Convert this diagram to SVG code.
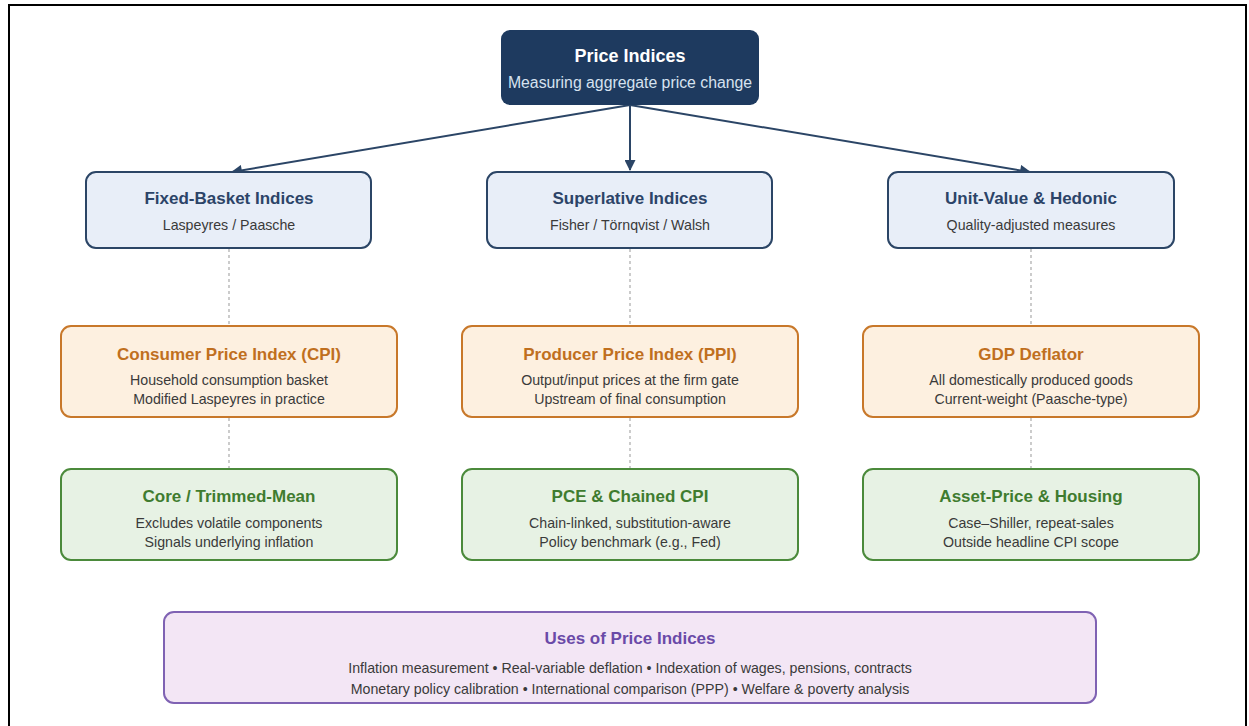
<svg xmlns="http://www.w3.org/2000/svg" width="1249" height="726" viewBox="0 0 1249 726">
<defs>
<style>
text{font-family:"Liberation Sans",Arial,sans-serif;text-anchor:middle}
.t{font-size:17px;font-weight:bold}
.s{font-size:14.2px;fill:#3a3a3a}
.b rect{fill:#e8eef8;stroke:#2b4566;stroke-width:2}
.b .t{fill:#2c4468}
.o rect{fill:#fdf0e0;stroke:#c8782a;stroke-width:2}
.o .t{fill:#c06f1e}
.g rect{fill:#e7f2e4;stroke:#4b8a3b;stroke-width:2}
.g .t{fill:#3f7c2f}
.p rect{fill:#f3e6f5;stroke:#7f62b3;stroke-width:2}
.p .t{fill:#6a4aa8}
.arr{stroke:#2b4566;stroke-width:2;fill:none}
.dot{stroke:#aaaaaa;stroke-width:1.2;stroke-dasharray:3 3;fill:none}
</style>
<marker id="ah" viewBox="0 0 10 10" refX="9" refY="5" markerWidth="12" markerHeight="11" orient="auto" markerUnits="userSpaceOnUse">
<path d="M0,0 L10,5 L0,10 z" fill="#2b4566"/>
</marker>
</defs>
<rect x="0" y="0" width="1249" height="726" fill="#ffffff"/>
<rect x="9" y="5" width="1237" height="740" fill="none" stroke="#000" stroke-width="2"/>
<g id="connectors">
<line class="arr" x1="630" y1="105" x2="232" y2="172" marker-end="url(#ah)"/>
<line class="arr" x1="630" y1="105" x2="630" y2="170" marker-end="url(#ah)"/>
<line class="arr" x1="630" y1="105" x2="1030" y2="172" marker-end="url(#ah)"/>
<line class="dot" x1="229" y1="249" x2="229" y2="325"/>
<line class="dot" x1="630" y1="249" x2="630" y2="325"/>
<line class="dot" x1="1031" y1="249" x2="1031" y2="325"/>
<line class="dot" x1="229" y1="418" x2="229" y2="468"/>
<line class="dot" x1="630" y1="418" x2="630" y2="468"/>
<line class="dot" x1="1031" y1="418" x2="1031" y2="468"/>
</g>
<g id="root">
<rect x="501" y="30" width="258" height="75" rx="9" fill="#1e3a5f"/>
<text x="630" y="62" style="font-size:18px;font-weight:bold" fill="#ffffff">Price Indices</text>
<text x="630" y="88" style="font-size:15.8px" fill="#d6e2f0">Measuring aggregate price change</text>
</g>
<g id="fixed" class="b">
<rect x="86" y="172" width="285" height="76" rx="10"/>
<text x="229" y="204" class="t">Fixed-Basket Indices</text>
<text x="229" y="230" class="s">Laspeyres / Paasche</text>
</g>
<g id="superlative" class="b">
<rect x="487" y="172" width="285" height="76" rx="10"/>
<text x="630" y="204" class="t">Superlative Indices</text>
<text x="630" y="230" class="s">Fisher / Törnqvist / Walsh</text>
</g>
<g id="unitvalue" class="b">
<rect x="888" y="172" width="286" height="76" rx="10"/>
<text x="1031" y="204" class="t">Unit-Value &amp; Hedonic</text>
<text x="1031" y="230" class="s">Quality-adjusted measures</text>
</g>
<g id="cpi" class="o">
<rect x="61" y="326" width="336" height="91" rx="10"/>
<text x="229" y="360" class="t">Consumer Price Index (CPI)</text>
<text x="229" y="385" class="s">Household consumption basket</text>
<text x="229" y="404" class="s">Modified Laspeyres in practice</text>
</g>
<g id="ppi" class="o">
<rect x="462" y="326" width="336" height="91" rx="10"/>
<text x="630" y="360" class="t">Producer Price Index (PPI)</text>
<text x="630" y="385" class="s">Output/input prices at the firm gate</text>
<text x="630" y="404" class="s">Upstream of final consumption</text>
</g>
<g id="gdp" class="o">
<rect x="863" y="326" width="336" height="91" rx="10"/>
<text x="1031" y="360" class="t">GDP Deflator</text>
<text x="1031" y="385" class="s">All domestically produced goods</text>
<text x="1031" y="404" class="s">Current-weight (Paasche-type)</text>
</g>
<g id="core" class="g">
<rect x="61" y="469" width="336" height="91" rx="10"/>
<text x="229" y="502" class="t">Core / Trimmed-Mean</text>
<text x="229" y="528" class="s">Excludes volatile components</text>
<text x="229" y="547" class="s">Signals underlying inflation</text>
</g>
<g id="pce" class="g">
<rect x="462" y="469" width="336" height="91" rx="10"/>
<text x="630" y="502" class="t">PCE &amp; Chained CPI</text>
<text x="630" y="528" class="s">Chain-linked, substitution-aware</text>
<text x="630" y="547" class="s">Policy benchmark (e.g., Fed)</text>
</g>
<g id="asset" class="g">
<rect x="863" y="469" width="336" height="91" rx="10"/>
<text x="1031" y="502" class="t">Asset-Price &amp; Housing</text>
<text x="1031" y="528" class="s">Case–Shiller, repeat-sales</text>
<text x="1031" y="547" class="s">Outside headline CPI scope</text>
</g>
<g id="uses" class="p">
<rect x="164" y="612" width="932" height="91" rx="10"/>
<text x="630" y="644" class="t">Uses of Price Indices</text>
<text x="630" y="673" class="s">Inflation measurement • Real-variable deflation • Indexation of wages, pensions, contracts</text>
<text x="630" y="694" class="s">Monetary policy calibration • International comparison (PPP) • Welfare &amp; poverty analysis</text>
</g>
</svg>
